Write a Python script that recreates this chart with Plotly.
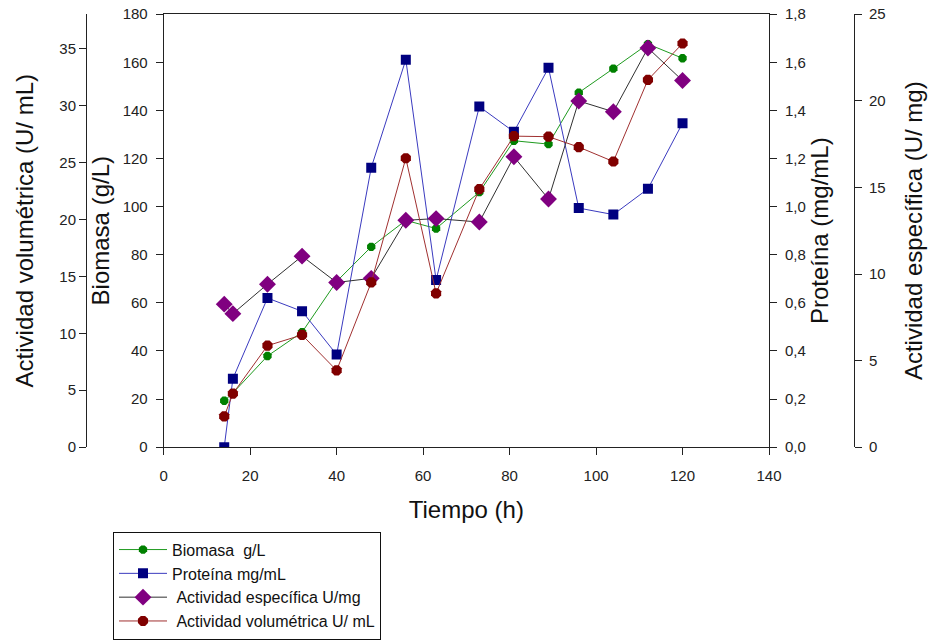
import plotly.graph_objects as go

# ---- data ----
tiempo = [14, 16, 24, 32, 40, 48, 56, 63, 73, 81, 89, 96, 104, 112, 120]
biomasa = [19.3, 22.5, 37.9, 47.8, 68.9, 83.3, 94.3, 90.9, 106.0, 127.4, 126.0, 147.4, 157.4, 167.6, 161.7]
proteina = [0.0, 0.285, 0.62, 0.565, 0.385, 1.162, 1.611, 0.695, 1.416, 1.311, 1.577, 0.994, 0.967, 1.074, 1.347]
act_especifica = [8.26, 7.71, 9.41, 11.03, 9.51, 9.75, 13.1, 13.2, 13.0, 16.77, 14.33, 19.99, 19.37, 23.05, 21.17]
act_volumetrica = [2.70, 4.70, 8.91, 9.85, 6.74, 14.46, 25.36, 13.5, 22.65, 27.3, 27.25, 26.34, 25.07, 32.24, 35.43]

x_ticks = [0, 20, 40, 60, 80, 100, 120, 140]
biomasa_ticks = [0, 20, 40, 60, 80, 100, 120, 140, 160, 180]
proteina_ticks = [0.0, 0.2, 0.4, 0.6, 0.8, 1.0, 1.2, 1.4, 1.6, 1.8]
especifica_ticks = [0, 5, 10, 15, 20, 25]
volumetrica_ticks = [0, 5, 10, 15, 20, 25, 30, 35]

FONT = "Liberation Sans, Arial, sans-serif"
AX = "#222222"

fig = go.Figure()
fig.add_trace(go.Scatter(x=tiempo, y=biomasa, name="Biomasa\u00a0 g/L", mode="lines+markers",
                         line=dict(color="#1f9a1f", width=1),
                         marker=dict(symbol="octagon", size=9, color="#008000"),
                         xaxis="x", yaxis="y"))
fig.add_trace(go.Scatter(x=tiempo, y=proteina, name="Proteína mg/mL", mode="lines+markers",
                         line=dict(color="#3a3abf", width=1),
                         marker=dict(symbol="square", size=10, color="#000080"),
                         xaxis="x", yaxis="y2"))
fig.add_trace(go.Scatter(x=tiempo, y=act_especifica, name="\u00a0Actividad específica U/mg", mode="lines+markers",
                         line=dict(color="#303030", width=1),
                         marker=dict(symbol="diamond", size=13, color="#800080"),
                         xaxis="x", yaxis="y3"))
fig.add_trace(go.Scatter(x=tiempo, y=act_volumetrica, name="\u00a0Actividad volumétrica U/ mL", mode="lines+markers",
                         line=dict(color="#a03030", width=1),
                         marker=dict(symbol="octagon", size=11, color="#800000"),
                         xaxis="x", yaxis="y4"))

W, H = 932, 640
x0, x1 = 163.7, 769.0
ytop, ybot = 14.3, 450.0

common = dict(showgrid=False, zeroline=False, showline=True, linecolor=AX, linewidth=1,
              ticks="outside", ticklen=7, tickcolor=AX, tickwidth=1,
              tickfont=dict(family=FONT, size=15, color=AX), automargin=False)

TF = dict(family=FONT, size=24, color="#111")

fig.update_layout(
    width=W, height=H,
    margin=dict(l=0, r=0, t=0, b=0),
    paper_bgcolor="white", plot_bgcolor="white",
    separators=", ",
    font=dict(family=FONT, color=AX),
    xaxis=dict(domain=[x0 / W, x1 / W], range=[0, 140], tickvals=x_ticks, mirror=True,
               ticklabelstandoff=8,
               title=dict(text="Tiempo (h)", font=TF, standoff=18),
               **common),
    yaxis=dict(domain=[(H - ybot) / H, (H - ytop) / H], range=[0, 180], tickvals=biomasa_ticks,
               anchor="x", side="left", ticklabelstandoff=5,
               title=dict(text="Biomasa (g/L)", font=TF, standoff=6),
               **common),
    yaxis2=dict(range=[0, 1.8], tickvals=proteina_ticks, tickformat=".1f",
                overlaying="y", anchor="x", side="right", ticklabelstandoff=5,
                title=dict(text="Proteína (mg/mL)", font=TF, standoff=6),
                **common),
    yaxis3=dict(range=[0, 25], tickvals=especifica_ticks,
                overlaying="y", anchor="free", position=854 / W, side="right", ticklabelstandoff=4,
                title=dict(text="Actividad específica (U/ mg)", font=TF, standoff=20),
                **common),
    yaxis4=dict(range=[0, 38], tickvals=volumetrica_ticks,
                overlaying="y", anchor="free", position=86 / W, side="left", ticklabelstandoff=0,
                title=dict(text="Actividad volumétrica (U/ mL)", font=TF, standoff=17),
                **common),
    showlegend=True,
    legend=dict(x=113 / W, y=(H - 535) / H, xanchor="left", yanchor="top",
                bordercolor="#111", borderwidth=1, bgcolor="white",
                font=dict(family=FONT, size=16, color="#111"), itemwidth=48,
                tracegroupgap=0),
)

fig.write_html("out.html")
